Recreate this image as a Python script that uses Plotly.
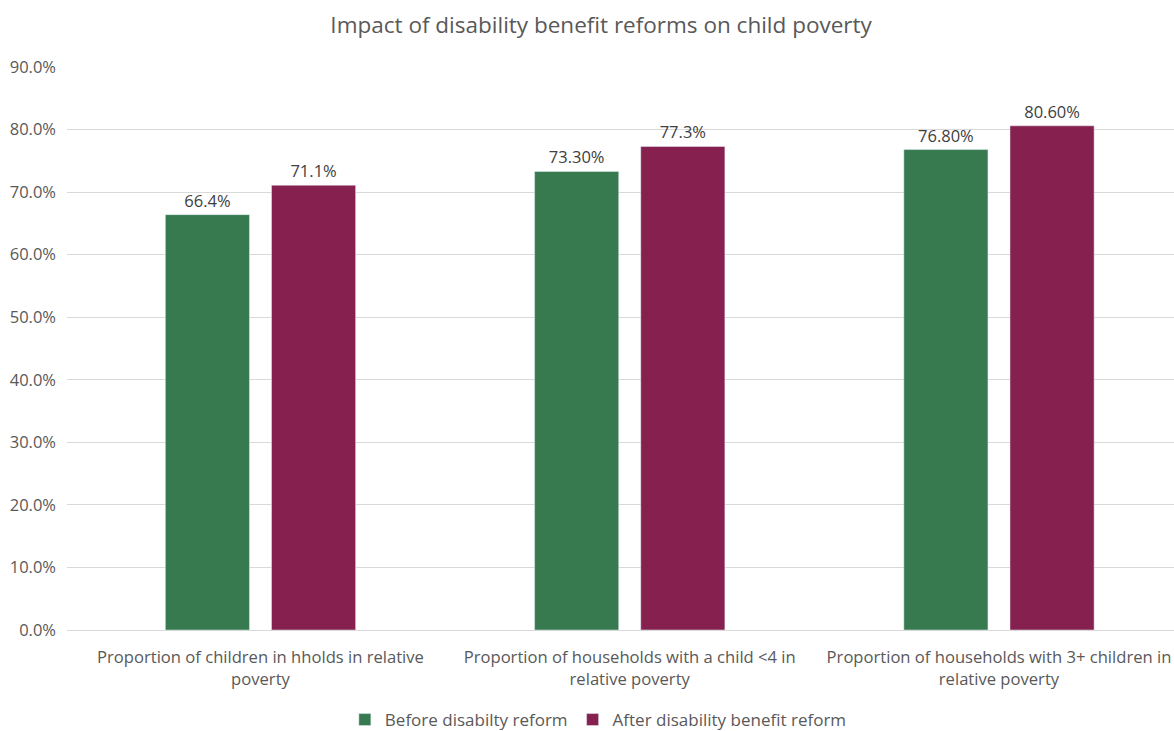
import plotly.graph_objects as go

categories = [
    "Proportion of children in hholds in relative<br>poverty",
    "Proportion of households with a child <4 in<br>relative poverty",
    "Proportion of households with 3+ children in<br>relative poverty",
]
before_values = [0.664, 0.733, 0.768]
after_values = [0.711, 0.773, 0.806]
before_labels = ["66.4%", "73.30%", "76.80%"]
after_labels = ["71.1%", "77.3%", "80.60%"]
y_ticks = [0.0, 0.1, 0.2, 0.3, 0.4, 0.5, 0.6, 0.7, 0.8, 0.9]

FONT = "Open Sans"
GREY = "#595959"

fig = go.Figure()
fig.add_trace(go.Bar(
    name="Before disabilty reform",
    x=categories, y=before_values,
    text=before_labels, textposition="outside",
    marker_color="#377A50",
    textfont=dict(size=16.5, color="#404040"),
    cliponaxis=False,
))
fig.add_trace(go.Bar(
    name="After disability benefit reform",
    x=categories, y=after_values,
    text=after_labels, textposition="outside",
    marker_color="#86214F",
    textfont=dict(size=16.5, color="#404040"),
    cliponaxis=False,
))

fig.update_layout(
    width=1174, height=731,
    margin=dict(l=67, r=0, t=67, b=101, autoexpand=False),
    paper_bgcolor="white", plot_bgcolor="white",
    font=dict(family=FONT, color=GREY),
    title=dict(
        text="Impact of disability benefit reforms on child poverty",
        x=0.512, xanchor="center", y=0.965, yanchor="middle",
        font=dict(size=22.5, color=GREY, family=FONT),
    ),
    barmode="group",
    bargap=0.425,
    bargroupgap=0.2075,
    showlegend=True,
    legend=dict(
        orientation="h", x=0.48, xanchor="center",
        yref="container", y=0.015, yanchor="middle",
        font=dict(size=17, color=GREY, family=FONT),
        itemwidth=30, traceorder="normal",
    ),
)
fig.update_xaxes(
    range=[-0.524, 2.474],
    showgrid=False, showline=True, linecolor="#D9D9D9", linewidth=1,
    tickfont=dict(size=16.6, color=GREY, family=FONT),
    ticks="", ticklabelstandoff=12,
)
fig.update_yaxes(
    range=[0, 0.9], tickvals=y_ticks, tickformat=".1%",
    showgrid=True, gridcolor="#D9D9D9", gridwidth=1,
    zeroline=False, showline=False,
    tickfont=dict(size=16.5, color=GREY, family=FONT),
    ticklabelstandoff=10,
)

fig.write_html("out.html")
